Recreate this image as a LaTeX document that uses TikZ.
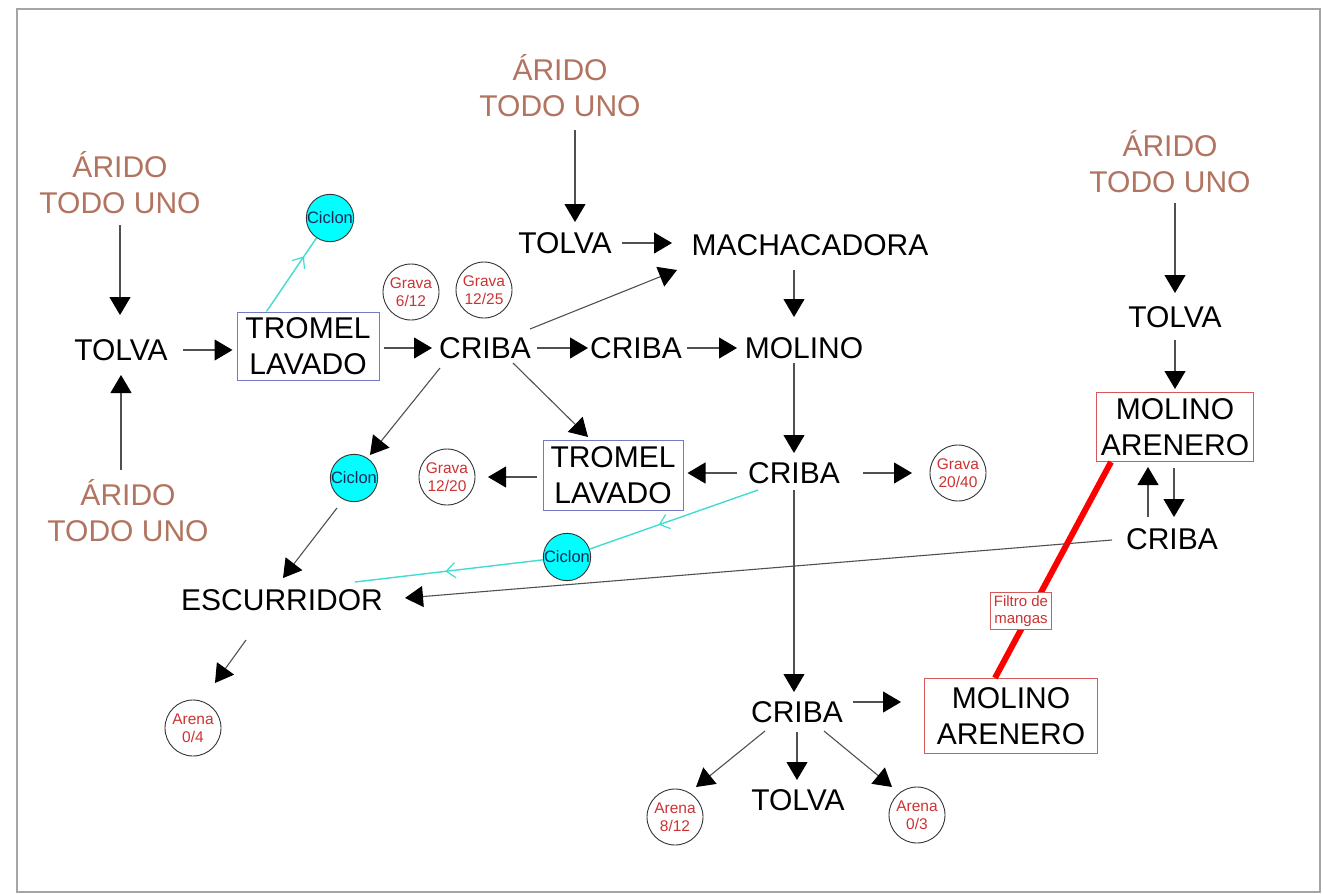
\documentclass[tikz,border=0pt]{standalone}
\usepackage{fontspec}
\setmainfont{Liberation Sans}
\usetikzlibrary{arrows.meta,calc,decorations.markings}
\definecolor{brownc}{RGB}{178,116,96}
\definecolor{redc}{RGB}{205,50,50}
\definecolor{tromelc}{RGB}{120,120,200}
\definecolor{molc}{RGB}{210,90,90}
\definecolor{cyanl}{RGB}{64,220,210}
\definecolor{cyanfill}{RGB}{0,255,255}
\definecolor{linec}{RGB}{80,80,80}
\definecolor{framec}{RGB}{165,165,165}
\definecolor{cictext}{RGB}{20,40,90}
\begin{document}
\begin{tikzpicture}[x=1pt,y=-1pt,
  big/.style={font=\fontsize{30}{36}\selectfont, align=center, inner sep=0pt},
  src/.style={big, text=brownc},
  tbox/.style={big, draw=tromelc, line width=1pt, minimum width=142pt, minimum height=68pt},
  mbox/.style={big, draw=molc, line width=1pt, minimum width=157pt, minimum height=69pt},
  prod/.style={circle, draw=black!80, line width=0.9pt, minimum size=56pt, inner sep=0pt, align=center, text=redc, font=\fontsize{15.5}{18.5}\selectfont},
  cic/.style={circle, draw=black!80, line width=0.9pt, fill=cyanfill, minimum size=43pt, inner sep=0pt, text=cictext, font=\fontsize{16.5}{18}\selectfont},
  filtbox/.style={draw=molc, line width=0.8pt, fill=white, text=redc, align=center, inner sep=3pt, font=\fontsize{15}{17}\selectfont},
  arr/.style={draw=linec, line width=1.1pt, -{Triangle[length=18pt,width=21pt,color=black]}},
  cyanarr/.style={draw=cyanl, line width=1.4pt, postaction={decorate},
    decoration={markings, mark=at position #1 with {\arrow{Straight Barb[length=9pt,width=15pt,line width=1.2pt]}}}},
  redl/.style={draw=red, line width=6pt}
]
\useasboundingbox (0,0) rectangle (1323,894);
\draw[framec, line width=2pt] (17,9) rectangle (1320,892);

% nodes
\node[big] (t1) at (121,350) {TOLVA};
\node[src] (a1) at (120,183) {ÁRIDO\\TODO UNO};
\node[src] (a2) at (128,511) {ÁRIDO\\TODO UNO};
\node[tbox] (tr1) at (308,346) {TROMEL\\LAVADO};
\node[cic] (c1) at (330,218) {Ciclon};
\node[prod] (g612) at (411,292) {Grava\\6/12};
\node[prod] (g1225) at (484,290) {Grava\\12/25};
\node[big] (cr1) at (485,348) {CRIBA};
\node[big] (cr2) at (636,348) {CRIBA};
\node[big] (mol) at (804,348) {MOLINO};
\node[src] (a3) at (560,86) {ÁRIDO\\TODO UNO};
\node[big] (t2) at (565,243) {TOLVA};
\node[big] (mach) at (810,245) {MACHACADORA};
\node[big] (cr3) at (794,473) {CRIBA};
\node[tbox, minimum width=140pt, minimum height=70pt] (tr2) at (613,475) {TROMEL\\LAVADO};
\node[prod] (g1220) at (447,477) {Grava\\12/20};
\node[prod] (g2040) at (958,473) {Grava\\20/40};
\node[cic] (c2) at (354,478) {Ciclon};
\node[big] (esc) at (282,600) {ESCURRIDOR};
\node[cic] (c3) at (567,557) {Ciclon};
\node[prod] (ar04) at (193,728) {Arena\\0/4};
\node[big] (cr4) at (797,712) {CRIBA};
\node[mbox, minimum width=173pt, minimum height=75pt] (ma2) at (1011,716) {MOLINO\\ARENERO};
\node[prod] (ar812) at (675,817) {Arena\\8/12};
\node[big] (tv3) at (798,800) {TOLVA};
\node[prod] (ar03) at (917,815) {Arena\\0/3};
\node[src] (a4) at (1170,162) {ÁRIDO\\TODO UNO};
\node[big] (t4) at (1175,317) {TOLVA};
\node[mbox] (ma1) at (1175,427) {MOLINO\\ARENERO};
\node[big] (cr5) at (1172,539) {CRIBA};

% red filter line
\draw[redl] ($(ma1.south west)+(15,0)$) -- ($(ma2.north west)+(71,0)$)
  node[filtbox, pos=0.69, xshift=-10pt] (filt) {Filtro de\\mangas};

% connectors
\draw[arr, shorten <=42pt, shorten >=35pt] (a1.center) -- (a1.center |- t1.center);
\draw[arr, shorten <=41pt, shorten >=25pt] (t1.center |- a2.center) -- (t1.center);
\draw[arr, shorten <=62pt, shorten >=4pt] (t1.center) -- (t1.center -| tr1.west);
\draw[arr, shorten <=4pt, shorten >=53pt] (cr1.center -| tr1.east) -- (cr1.center);
\draw[cyanarr=0.75] ($(tr1.north west)!0.21!(tr1.north east)$) -- (c1);
\draw[arr, shorten <=52pt, shorten >=48pt] (cr1.center) -- (cr2.center);
\draw[arr, shorten <=51pt, shorten >=67pt] (cr2.center) -- (cr2.center -| mol.center);
\draw[arr] ($(cr1.center)+(45,-19)$) -- ($(mach.center)+(-133,25)$);
\draw[arr, shorten <=57pt, shorten >=138pt] (t2.center) -- (t2.center -| mach.center);
\draw[arr, shorten <=44pt, shorten >=21pt] ($(a3.center -| t2.center)+(10,0)$) -- ($(t2.center)+(10,0)$);
\draw[arr, shorten <=25pt, shorten >=31pt] (cr3.center |- mach.center) -- (cr3.center |- mol.center);
\draw[arr, shorten <=15pt, shorten >=20pt] (cr3.center |- mol.center) -- (cr3.center);
\draw[arr, shorten <=57pt, shorten >=4pt] (cr3.center) -- (cr3.center -| tr2.east);
\draw[arr, shorten <=6pt, shorten >=41pt] (g1220.center -| tr2.west) -- (g1220.center);
\draw[arr, shorten <=69pt, shorten >=46pt] (cr3.center) -- (cr3.center -| g2040.center);
\draw[arr] ($(cr1.center)+(28,15)$) -- ($(tr2.center)+(-25,-38)$);
\draw[arr] ($(cr1.center)+(-45,20)$) -- ($(c2.center)+(16,-23)$);
\draw[arr] ($(c2.center)+(-17,30)$) -- ($(esc.center)+(1,-22)$);
\draw[arr] ($(esc.center)+(-36,40)$) -- ($(ar04.center)+(22,-45)$);
\draw[arr] ($(cr5.center)+(-60,1)$) -- ($(esc.center)+(123,-2)$);
\draw[cyanarr=0.59] ($(cr3.center)+(-36,17)$) -- (c3);
\draw[cyanarr=0.52] (c3) -- ($(esc.center)+(73,-18)$);
\draw[arr, shorten <=17pt, shorten >=20pt] (cr3.center) -- (cr3.center |- cr4.center);
\draw[arr, shorten <=56pt, shorten >=23pt] ([yshift=10pt]cr4.center) -- ([yshift=10pt]cr4.center -| ma2.west);
\draw[arr] ($(cr4.center)+(-32,19)$) -- ($(ar812.center)+(21,-30)$);
\draw[arr, shorten <=20pt, shorten >=20pt] (cr4.center) -- (cr4.center |- tv3.center);
\draw[arr] ($(cr4.center)+(27,19)$) -- ($(ar03.center)+(-25,-28)$);
\draw[arr, shorten <=41pt, shorten >=24pt] (t4.center |- a4.center) -- (t4.center);
\draw[arr, shorten <=23pt, shorten >=3pt] (t4.center) -- (t4.center |- ma1.north);
\draw[arr, shorten <=6pt, shorten >=22pt] ([xshift=2pt]cr5.center |- ma1.south) -- ([xshift=2pt]cr5.center);
\draw[arr, shorten <=22pt, shorten >=5pt] ([xshift=-24pt]cr5.center) -- ([xshift=-24pt]cr5.center |- ma1.south);
\end{tikzpicture}
\end{document}
